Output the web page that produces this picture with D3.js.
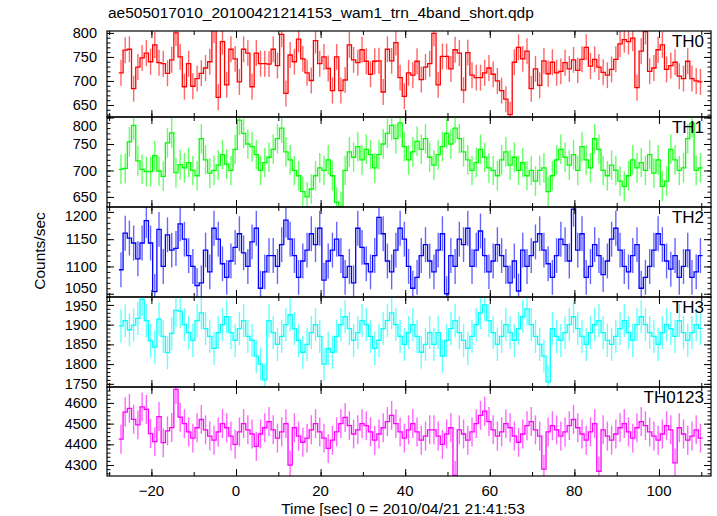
<!DOCTYPE html>
<html><head><meta charset="utf-8">
<script src="https://cdn.jsdelivr.net/npm/d3@7"></script>
<style>body{margin:0;background:#fff}svg{display:block}text{font-family:"Liberation Sans",Arial,sans-serif;fill:#000}</style>
</head><body><svg id="c" width="717" height="516"></svg>
<script>
const titleText = "ae505017010_20100421214153_wam1_trn_4band_short.qdp";
const xLabel = "Time [sec] 0 = 2010/04/21 21:41:53";
const yLabel = "Counts/sec";
const binStart = -27.7, binWidth = 1.0;
const panelNames = ["TH0","TH1","TH2","TH3","TH0123"];
const panelColors = ["#ff0000","#00ff00","#0000ff","#00ffff","#ff00ff"];
const panelErrors = [27, 28, 32, 42, 70];
const yDomains = [[625,804],[631,801],[1044,1209],[1742,1970],[4247,4677]];
const yMajor = [50,50,50,50,100];
const yMinor = [10,10,10,10,20];
const xMajorTicks = [-20,0,20,40,60,80,100];

const th0 = [717,764,766,684,729,748,758,740,775,738,736,716,744,800,750,
688,736,689,705,716,727,740,806,666,782,692,766,746,698,766,
758,688,758,736,736,735,766,732,797,674,754,740,787,746,717,
701,784,736,750,726,680,750,680,702,775,744,738,765,741,714,
741,742,677,766,742,780,707,668,717,712,741,703,729,736,799,
692,751,751,725,765,758,681,759,712,707,707,717,727,714,700,
680,662,630,739,770,746,762,684,725,691,742,715,739,717,720,
738,725,744,722,745,770,731,745,729,718,712,724,745,777,786,
782,789,686,762,803,720,727,765,775,724,732,739,710,705,741,
705,700,698];
const th1 = [702,704,754,785,718,702,698,698,728,699,689,752,771,696,711,
705,715,700,690,760,720,695,700,710,730,712,700,740,795,770,
750,745,730,700,715,725,740,760,780,735,720,700,690,660,650,
665,690,705,700,720,690,640,632,700,735,725,745,720,740,730,
705,730,750,770,785,760,790,745,720,735,755,740,760,725,710,
730,745,770,750,780,760,735,720,700,715,740,725,705,700,690,
720,735,710,725,700,715,690,700,680,700,705,660,690,720,740,
725,710,730,700,745,720,705,760,740,700,690,710,700,680,670,
690,720,705,715,700,730,695,720,670,680,740,720,700,705,760,
790,700,705];
const th2 = [1094,1161,1152,1143,1114,1143,1184,1143,1054,1168,1100,1158,1130,1133,1178,
1150,1120,1100,1065,1070,1130,1090,1170,1150,1105,1080,1110,1135,1160,1125,
1100,1145,1170,1060,1090,1120,1120,1100,1140,1185,1150,1120,1080,1110,1130,
1160,1140,1170,1075,1110,1130,1150,1120,1080,1100,1070,1170,1135,1105,1090,
1120,1190,1160,1110,1090,1130,1170,1150,1100,1060,1080,1120,1140,1110,1090,
1130,1160,1050,1120,1100,1150,1140,1170,1100,1130,1165,1120,1090,1110,1140,
1120,1100,1070,1110,1055,1130,1100,1120,1145,1160,1130,1105,1080,1120,1150,
1140,1110,1205,1130,1160,1080,1100,1140,1120,1085,1110,1150,1170,1130,1100,
1090,1120,1140,1060,1080,1100,1130,1160,1140,1110,1095,1120,1080,1100,1130,
1080,1090,1120];
const th3 = [1897,1910,1887,1899,1916,1964,1910,1859,1843,1914,1870,1829,1878,1936,1934,
1900,1880,1860,1910,1930,1890,1870,1840,1880,1900,1920,1880,1860,1890,1910,
1870,1860,1820,1800,1760,1910,1880,1850,1870,1900,1925,1890,1860,1830,1850,
1880,1900,1870,1800,1840,1830,1870,1900,1920,1890,1860,1880,1910,1900,1870,
1840,1860,1890,1910,1930,1900,1870,1850,1880,1900,1870,1830,1850,1880,1850,
1880,1820,1860,1890,1910,1880,1860,1840,1870,1900,1930,1950,1910,1880,1850,
1870,1900,1880,1860,1890,1920,1940,1900,1870,1850,1820,1755,1890,1870,1860,
1880,1900,1920,1890,1870,1850,1880,1900,1910,1880,1860,1850,1870,1890,1910,
1880,1860,1900,1920,1900,1880,1870,1850,1880,1900,1890,1870,1910,1880,1860,
1880,1900,1890];
const th0123 = [4425,4556,4574,4521,4494,4581,4569,4452,4413,4534,4408,4465,4481,4666,4531,
4500,4460,4430,4480,4520,4470,4440,4420,4460,4500,4480,4440,4400,4460,4500,
4470,4450,4390,4450,4480,4510,4470,4430,4460,4500,4300,4480,4440,4410,4430,
4470,4500,4460,4430,4380,4420,4460,4500,4530,4490,4450,4470,4500,4490,4460,
4420,4450,4480,4510,4540,4500,4460,4430,4470,4500,4460,4420,4440,4470,4470,
4440,4400,4450,4480,4250,4470,4450,4420,4460,4500,4540,4560,4510,4470,4440,
4460,4500,4480,4440,4410,4450,4490,4510,4470,4440,4280,4460,4490,4470,4440,
4460,4490,4520,4480,4450,4420,4460,4500,4270,4470,4440,4420,4450,4480,4500,
4460,4430,4480,4510,4490,4460,4440,4420,4450,4490,4470,4310,4480,4450,4420,
4440,4470,4430];
const seriesList = [th0, th1, th2, th3, th0123];

// layout
const L = 107, R = 711;
const panelTops = [31, 117, 207, 297, 387];
const plotBottom = 476;

const svg = d3.select("#c");
const x = d3.scaleLinear().domain([-30.5, 112.3]).range([L, R]);

svg.append("text").attr("x", 108).attr("y", 18).attr("font-size", 15.5).text(titleText);

seriesList.forEach((vals, p) => {
  const top = panelTops[p];
  const bot = p < 4 ? panelTops[p + 1] : plotBottom;
  const y = d3.scaleLinear().domain(yDomains[p]).range([bot, top]);
  const g = svg.append("g");
  const clipId = "clip" + p;
  svg.append("clipPath").attr("id", clipId).append("rect")
    .attr("x", L).attr("y", top).attr("width", R - L).attr("height", bot - top);
  const dg = g.append("g").attr("clip-path", `url(#${clipId})`);
  const col = panelColors[p];
  const err = panelErrors[p];
  dg.selectAll("line.err").data(vals).join("line")
    .attr("x1", (d, i) => x(binStart + (i + 0.5) * binWidth))
    .attr("x2", (d, i) => x(binStart + (i + 0.5) * binWidth))
    .attr("y1", d => y(d - err)).attr("y2", d => y(d + err))
    .attr("stroke", col).attr("stroke-width", 1.4).attr("stroke-opacity", 0.6);
  const pts = vals.map((d, i) => [binStart + i * binWidth, d]);
  pts.push([binStart + vals.length * binWidth, vals[vals.length - 1]]);
  const line = d3.line().x(d => x(d[0])).y(d => y(d[1])).curve(d3.curveStepAfter);
  dg.append("path").attr("d", line(pts)).attr("fill", "none")
    .attr("stroke", col).attr("stroke-width", 1.3);

  const majT = d3.range(Math.ceil(yDomains[p][0] / yMajor[p]) * yMajor[p], yDomains[p][1] + 0.1, yMajor[p]);
  const minT = d3.range(Math.ceil(yDomains[p][0] / yMinor[p]) * yMinor[p], yDomains[p][1] + 0.1, yMinor[p]);
  [[d3.axisRight(y).tickValues(majT).tickSize(7), L], [d3.axisRight(y).tickValues(minT).tickSize(3.5), L],
   [d3.axisLeft(y).tickValues(majT).tickSize(7), R], [d3.axisLeft(y).tickValues(minT).tickSize(3.5), R]].forEach(([ax, pos]) => {
    const a = g.append("g").attr("transform", `translate(${pos},0)`).call(ax.tickFormat(""));
    a.select(".domain").remove();
    a.selectAll("line").attr("stroke", "#000");
  });
  // tick labels; labels right at a shared panel boundary nudged inward so they don't collide
  const nudgeBottom = (p === 0 || p === 2);
  g.selectAll("text.yl").data(majT).join("text")
    .attr("x", 97)
    .attr("y", d => {
      let yy = y(d);
      if (yy - top < 9 && p > 0) yy = top + 9;
      if (nudgeBottom && bot - yy < 14) yy = Math.min(yy, bot - 9);
      return yy;
    })
    .attr("dy", "0.35em")
    .attr("text-anchor", "end").attr("font-size", 14.5).text(d => d);

  const minorX = d3.range(-30, 111, 10);
  [[d3.axisBottom(x).tickValues(xMajorTicks).tickSize(7), top], [d3.axisBottom(x).tickValues(minorX).tickSize(4), top],
   [d3.axisTop(x).tickValues(xMajorTicks).tickSize(7), bot], [d3.axisTop(x).tickValues(minorX).tickSize(4), bot]].forEach(([ax, pos]) => {
    const a = g.append("g").attr("transform", `translate(0,${pos})`).call(ax.tickFormat(""));
    a.select(".domain").remove();
    a.selectAll("line").attr("stroke", "#000");
  });
  g.append("rect").attr("x", L).attr("y", top).attr("width", R - L).attr("height", bot - top)
    .attr("fill", "none").attr("stroke", "#000").attr("stroke-width", 1.2);
  g.append("text").attr("x", 704).attr("y", top + 16).attr("text-anchor", "end")
    .attr("font-size", 17).text(panelNames[p]);
});

svg.selectAll("text.xt").data(xMajorTicks).join("text")
  .attr("x", d => x(d)).attr("y", 496).attr("text-anchor", "middle")
  .attr("font-size", 15).text(d => d < 0 ? "\u2212" + Math.abs(d) : d);
svg.append("text").attr("x", 403).attr("y", 514).attr("text-anchor", "middle")
  .attr("font-size", 15.5).text(xLabel);
svg.append("text").attr("transform", "translate(45,251) rotate(-90)")
  .attr("text-anchor", "middle").attr("font-size", 15.5).text(yLabel);
</script></body></html>
